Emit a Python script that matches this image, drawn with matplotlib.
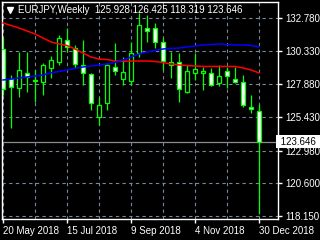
import matplotlib
matplotlib.use('Agg')
import matplotlib.pyplot as plt
import matplotlib.transforms as mtransforms
import numpy as np

plt.rcParams['font.family'] = ['Liberation Sans', 'DejaVu Sans']

# weekly candles, 20 May 2018 .. 30 Dec 2018
opens  = [130.49, 128.27, 127.61, 128.72, 128.20, 128.05, 129.09, 129.53, 131.15, 130.56,
          129.31, 128.64, 125.47, 126.50, 129.16, 128.27, 128.13, 130.19, 132.04, 132.04,
          131.01, 129.31, 129.53, 127.31, 128.72, 128.75, 128.72, 127.98, 128.86, 128.27,
          128.05, 126.20, 125.928]
highs  = [131.30, 128.57, 130.27, 130.27, 128.94, 129.46, 129.97, 131.52, 132.04, 130.79,
          131.15, 128.72, 126.94, 129.46, 130.93, 129.90, 131.01, 133.15, 133.00, 132.41,
          131.30, 130.27, 130.19, 129.31, 130.19, 129.16, 129.09, 129.31, 129.16, 129.16,
          128.57, 127.09, 126.425]
lows   = [127.09, 124.65, 126.94, 127.31, 126.57, 127.09, 128.35, 129.31, 130.27, 129.09,
          127.83, 125.98, 124.87, 125.98, 128.57, 127.83, 127.83, 129.90, 131.01, 130.56,
          128.94, 128.35, 126.57, 127.24, 128.20, 127.46, 127.76, 127.76, 127.61, 127.98,
          126.20, 125.76, 118.319]
closes = [127.53, 127.68, 128.94, 128.42, 128.16, 129.31, 129.68, 131.30, 130.64, 129.38,
          128.72, 126.50, 126.35, 129.31, 128.86, 128.79, 130.19, 132.26, 131.82, 131.01,
          129.60, 129.53, 127.53, 128.86, 129.01, 128.83, 127.83, 128.49, 128.49, 128.05,
          126.35, 126.06, 123.646]

ma_red  = [132.41, 132.23, 132.04, 131.82, 131.60, 131.30, 131.01, 130.86, 130.75, 130.49,
           130.19, 129.90, 129.75, 129.71, 129.60, 129.57, 129.60, 129.60, 129.60, 129.57,
           129.49, 129.38, 129.31, 129.27, 129.23, 129.20, 129.20, 129.20, 129.20, 129.20,
           129.09, 128.94, 128.72]
ma_blue = [128.20, 128.27, 128.35, 128.42, 128.49, 128.57, 128.72, 128.83, 128.94, 129.05,
           129.16, 129.23, 129.31, 129.38, 129.49, 129.68, 129.90, 130.12, 130.27, 130.38,
           130.49, 130.53, 130.56, 130.64, 130.71, 130.79, 130.82, 130.86, 130.82, 130.79,
           130.79, 130.75, 130.64]

price_ticks = [132.780, 130.330, 127.880, 125.430, 122.980, 120.600, 118.150]
date_pos = [0, 8, 16, 24, 32]
date_labels = ['20 May 2018', '15 Jul 2018', '9 Sep 2018', '4 Nov 2018', '30 Dec 2018']
last_price = 123.646
title = 'EURJPY,Weekly  125.928 126.425 118.319 123.646'

fig = plt.figure(figsize=(3.2, 2.4), dpi=100, facecolor='black')
ax = fig.add_axes([2 / 320, 21 / 240, 276 / 320, 217 / 240], facecolor='black')

x = np.arange(len(opens))
o = np.array(opens); c = np.array(closes)
h = np.array(highs); l = np.array(lows)

# grid
for p in price_ticks:
    ax.axhline(p, color='#778899', lw=0.8, ls=(0, (3, 3)), zorder=0)
for g in range(0, 33, 4):
    ax.axvline(g, color='#778899', lw=0.8, ls=(0, (3, 3)), zorder=0)

# current price line
ax.axhline(last_price, color='#8c8c8c', lw=0.9, zorder=1)

# wicks and bodies
ax.vlines(x, l, h, color='#00ff00', lw=0.9, zorder=2)
bull = c >= o
body_col = np.where(bull, 'black', 'white')
ax.bar(x, np.maximum(np.abs(c - o), 0.03), bottom=np.minimum(o, c), width=0.62,
       color=body_col, edgecolor='#00ff00', linewidth=0.9, zorder=3)

ax.plot(x, ma_red, color='#ff0000', lw=1.1, zorder=4)
ax.plot(x, ma_blue, color='#0000ff', lw=1.1, zorder=4)

ax.set_xlim(-0.125, 34.375)
ax.set_ylim(117.928, 133.962)

for s in ax.spines.values():
    s.set_color('white')
    s.set_linewidth(1)

ax.yaxis.tick_right()
ax.set_yticks(price_ticks)
ax.set_yticklabels([f'{p:.3f}' for p in price_ticks])
ax.set_xticks(date_pos)
ax.set_xticklabels(date_labels)
for t in ax.get_xticklabels():
    t.set_horizontalalignment('left')
ax.tick_params(colors='white', labelsize=7, length=3, width=1, pad=2)

# title with triangle
ax.plot([0.029], [0.962], marker='v', color='white', markersize=5, transform=ax.transAxes)
ax.text(0.058, 0.962, title, transform=ax.transAxes, color='white', fontsize=7,
        va='center', ha='left')

# last price box
trans = mtransforms.blended_transform_factory(ax.transAxes, ax.transData)
ax.text(1.0, last_price, ' 123.646  ', transform=trans, color='black', fontsize=7,
        va='center', ha='left', clip_on=False, zorder=10,
        bbox=dict(facecolor='white', edgecolor='none', pad=1.2))

fig.savefig('out.png', dpi=100, facecolor='black')
